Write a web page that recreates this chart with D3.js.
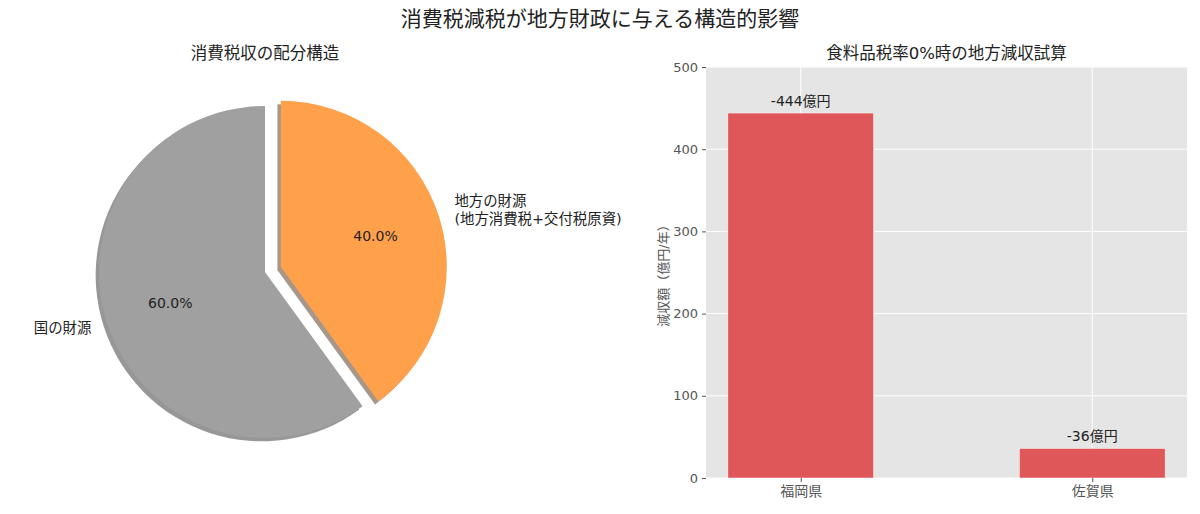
<!DOCTYPE html>
<html><head><meta charset="utf-8">
<script src="https://cdn.jsdelivr.net/npm/d3@7"></script>
<style>
body{margin:0;background:#fff;}
text{font-family:"DejaVu Sans","Noto Sans CJK JP",sans-serif;}
</style></head>
<body><svg id="c" width="1200" height="514"></svg>
<script>
const title = "消費税減税が地方財政に与える構造的影響";
const pieTitle = "消費税収の配分構造";
const pieLabels = ["国の財源", "地方の財源\n(地方消費税+交付税原資)"];
const pieValues = [60, 40];
const pieColors = ["#a0a0a0", "#ffa04a"];
const pieExplode = [0, 0.1];

const barTitle = "食料品税率0%時の地方減収試算";
const barCategories = ["福岡県", "佐賀県"];
const barValues = [444, 36];
const barTextLabels = ["-444億円", "-36億円"];
const yTicks = [0, 100, 200, 300, 400, 500];
const yLabel = "減収額（億円/年）";

(function () {
const svg = d3.select("#c");
svg.append("text").attr("x", 600).attr("y", 26).attr("text-anchor", "middle")
  .attr("font-size", 21).attr("fill", "#222").text(title);

// ---- Pie ----
const cx = 265, cy = 272, R = 166;
svg.append("text").attr("x", cx).attr("y", 59).attr("text-anchor", "middle")
  .attr("font-size", 16.5).attr("fill", "#222").text(pieTitle);
const pie = d3.pie().sort(null).startAngle(0).endAngle(-2 * Math.PI);
const arcs = pie(pieValues);
const arc = d3.arc().innerRadius(0).outerRadius(R);
const g = svg.append("g").attr("transform", `translate(${cx},${cy})`);
function off(a, d) { return [Math.sin(a) * d, -Math.cos(a) * d]; }
arcs.forEach((d, i) => {
  const mid = (d.startAngle + d.endAngle) / 2;
  const [ex, ey] = off(mid, pieExplode[i] * R);
  const c = d3.rgb(pieColors[i]);
  g.append("path").attr("d", arc(d))
    .attr("transform", `translate(${ex - 0.02 * R},${ey + 0.02 * R})`)
    .attr("fill", d3.rgb(c.r * 0.3, c.g * 0.3, c.b * 0.3)).attr("opacity", 0.5);
});
arcs.forEach((d, i) => {
  const mid = (d.startAngle + d.endAngle) / 2;
  const [ex, ey] = off(mid, pieExplode[i] * R);
  g.append("path").attr("d", arc(d)).attr("transform", `translate(${ex},${ey})`)
    .attr("fill", pieColors[i]);
  const [px, py] = off(mid, (0.6 + pieExplode[i]) * R);
  g.append("text").attr("x", px).attr("y", py).attr("text-anchor", "middle")
    .attr("dominant-baseline", "central").attr("font-size", 14).attr("fill", "#222")
    .text((pieValues[i] / d3.sum(pieValues) * 100).toFixed(1) + "%");
  const [lx, ly] = off(mid, (1.1 + pieExplode[i]) * R);
  const lines = pieLabels[i].split("\n");
  const t = g.append("text").attr("text-anchor", lx > 0 ? "start" : "end")
    .attr("font-size", 14.4).attr("fill", "#222");
  const lh = 18;
  lines.forEach((ln, k) => {
    t.append("tspan").attr("x", lx).attr("y", ly + (k - (lines.length - 1) / 2) * lh)
      .attr("dominant-baseline", "central").text(ln);
  });
});

// ---- Bar ----
const pL = 706, pR = 1187, pT = 67, pB = 478;
svg.append("text").attr("x", (pL + pR) / 2).attr("y", 59).attr("text-anchor", "middle")
  .attr("font-size", 16.5).attr("fill", "#222").text(barTitle);
const x = d3.scaleLinear().domain([-0.325, barCategories.length - 1 + 0.325]).range([pL, pR]);
const y = d3.scaleLinear().domain([0, 500]).range([pB, pT]);
svg.append("rect").attr("x", pL).attr("y", pT).attr("width", pR - pL)
  .attr("height", pB - pT).attr("fill", "#e5e5e5");
const bg = svg.append("g");
yTicks.forEach(t => bg.append("line").attr("x1", pL).attr("x2", pR)
  .attr("y1", y(t)).attr("y2", y(t)).attr("stroke", "#fff").attr("stroke-width", 1));
barCategories.forEach((c, i) => bg.append("line").attr("x1", x(i)).attr("x2", x(i))
  .attr("y1", pT).attr("y2", pB).attr("stroke", "#fff").attr("stroke-width", 1));
barCategories.forEach((c, i) => {
  svg.append("rect").attr("x", x(i - 0.25)).attr("width", x(i + 0.25) - x(i - 0.25))
    .attr("y", y(barValues[i])).attr("height", y(0) - y(barValues[i]))
    .attr("fill", "#e05759").attr("stroke", "#fff").attr("stroke-width", 0.5);
  svg.append("text").attr("x", x(i)).attr("y", y(barValues[i]) - 7)
    .attr("text-anchor", "middle").attr("font-size", 14).attr("fill", "#222")
    .text(barTextLabels[i]);
});
const yAxis = d3.axisLeft(y).tickValues(yTicks).tickSize(4).tickPadding(4);
const ya = svg.append("g").attr("transform", `translate(${pL},0)`).call(yAxis);
ya.select(".domain").remove();
ya.selectAll("line").attr("stroke", "#555");
ya.selectAll("text").attr("fill", "#555").attr("font-size", 13);
const xAxis = d3.axisBottom(d3.scaleOrdinal().domain(barCategories).range(barCategories.map((c, i) => x(i))))
  .tickSize(4).tickPadding(4);
const xa = svg.append("g").attr("transform", `translate(0,${pB})`).call(xAxis);
xa.select(".domain").remove();
xa.selectAll("line").attr("stroke", "#555");
xa.selectAll("text").attr("fill", "#555").attr("font-size", 14);
svg.append("text").attr("transform", `translate(663,${(pT + pB) / 2}) rotate(-90)`)
  .attr("text-anchor", "middle").attr("dominant-baseline", "central")
  .attr("font-size", 13).attr("fill", "#555").text(yLabel);
})();
</script></body></html>
